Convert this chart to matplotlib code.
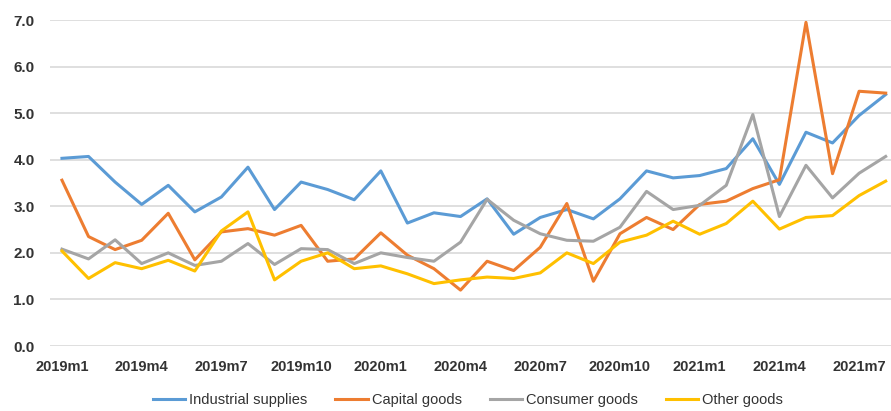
import matplotlib
matplotlib.use("Agg")
import matplotlib.pyplot as plt

months = [f"{y}m{m}" for y in (2019, 2020, 2021) for m in range(1, 13)][:32]

industrial_supplies = [4.03, 4.07, 3.52, 3.04, 3.45, 2.88, 3.20, 3.84, 2.93, 3.52,
                       3.36, 3.14, 3.76, 2.64, 2.86, 2.78, 3.16, 2.40, 2.76, 2.93,
                       2.73, 3.16, 3.76, 3.61, 3.66, 3.81, 4.45, 3.47, 4.59, 4.36,
                       4.95, 5.40]
capital_goods = [3.56, 2.35, 2.07, 2.27, 2.85, 1.85, 2.45, 2.52, 2.38, 2.59,
                 1.82, 1.87, 2.43, 1.95, 1.66, 1.20, 1.82, 1.62, 2.12, 3.06,
                 1.39, 2.41, 2.76, 2.50, 3.04, 3.11, 3.38, 3.57, 6.95, 3.70,
                 5.47, 5.43]
consumer_goods = [2.08, 1.87, 2.28, 1.77, 2.00, 1.73, 1.82, 2.20, 1.75, 2.09,
                  2.07, 1.77, 2.00, 1.90, 1.82, 2.23, 3.15, 2.70, 2.41, 2.27,
                  2.25, 2.55, 3.32, 2.93, 3.02, 3.45, 4.97, 2.78, 3.88, 3.18,
                  3.71, 4.07]
other_goods = [2.04, 1.45, 1.79, 1.66, 1.84, 1.61, 2.47, 2.88, 1.42, 1.82,
               2.00, 1.66, 1.72, 1.55, 1.34, 1.42, 1.48, 1.45, 1.57, 2.00,
               1.77, 2.23, 2.38, 2.68, 2.40, 2.63, 3.11, 2.51, 2.76, 2.80,
               3.23, 3.54]

series = [
    ("Industrial supplies", industrial_supplies, "#5B9BD5"),
    ("Capital goods", capital_goods, "#ED7D31"),
    ("Consumer goods", consumer_goods, "#A5A5A5"),
    ("Other goods", other_goods, "#FFC000"),
]

plt.rcParams["font.family"] = ["Liberation Sans", "DejaVu Sans"]

fig = plt.figure(figsize=(8.91, 4.11), dpi=100)
ax = fig.add_axes([50 / 891, 1 - 346 / 411, 1 - 50 / 891, (346 - 20) / 411])

x = list(range(len(months)))
for name, vals, color in series:
    ax.plot(x, vals, color=color, lw=2.2, label=name)

ax.set_xlim(-0.45, 31.2)
ax.set_ylim(0, 7)
ax.set_yticks(list(range(8)))
ax.set_yticklabels([f"{i:.1f}" for i in range(8)])
ax.set_xticks(x[::3])
ax.set_xticklabels(months[::3])

for s in ax.spines.values():
    s.set_visible(False)
ax.grid(axis="y", color="#D9D9D9", lw=1.2)
ax.set_axisbelow(True)
ax.tick_params(axis="both", length=0, labelsize=10.5, colors="#333333")
ax.tick_params(axis="y", labelsize=11, pad=11)
ax.tick_params(axis="x", pad=10)
for lab in ax.get_xticklabels() + ax.get_yticklabels():
    lab.set_fontweight("bold")

leg = fig.legend(loc="center", bbox_to_anchor=(468 / 891, 1 - 400 / 411), ncol=4,
                 frameon=False, fontsize=10.5, handlelength=2.2, handletextpad=0.3,
                 columnspacing=1.9)
for t in leg.get_texts():
    t.set_color("#333333")

fig.savefig("out.png", dpi=100)
